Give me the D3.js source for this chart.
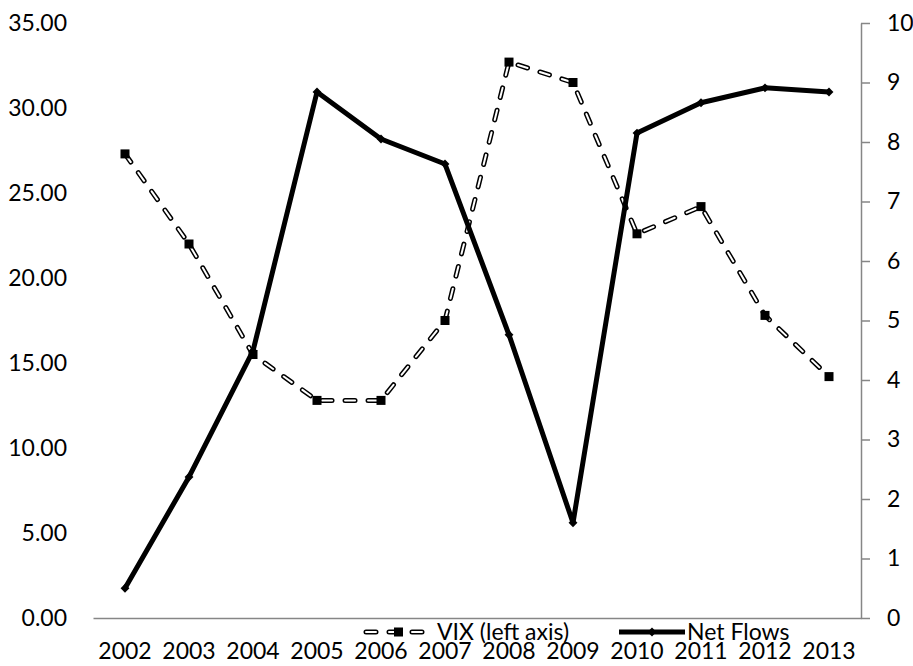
<!DOCTYPE html>
<html>
<head>
<meta charset="utf-8">
<script src="https://cdn.jsdelivr.net/npm/d3@7"></script>
<style>
  body { margin: 0; background: #fff; }
  text { font-family: Lato, "Open Sans", sans-serif; fill: #000; }
</style>
</head>
<body>
<div id="chart"></div>
<script>
// data
var years = ["2002","2003","2004","2005","2006","2007","2008","2009","2010","2011","2012","2013"]
var vix = [27.3, 22.0, 15.5, 12.8, 12.8, 17.5, 32.7, 31.5, 22.6, 24.2, 17.8, 14.2]
var netFlows = [0.50, 2.37, 4.49, 8.84, 8.05, 7.63, 4.76, 1.60, 8.15, 8.66, 8.91, 8.84]
var leftTicks = [0, 5, 10, 15, 20, 25, 30, 35]
var rightTicks = [0, 1, 2, 3, 4, 5, 6, 7, 8, 9, 10]

var w = 913
var h = 666
var plotL = 93, plotR = 861, plotT = 23, plotB = 618

var svg = d3.select('#chart').append('svg')
  .attr('width', w)
  .attr('height', h)

var x = d3.scaleBand().domain(years).range([plotL, plotR])
var yL = d3.scaleLinear().domain([0, 35]).range([plotB, plotT])
var yR = d3.scaleLinear().domain([0, 10]).range([plotB, plotT])

// left axis: labels only
var gl = svg.append('g')
  .attr('transform', 'translate(' + plotL + ',0)')
  .call(d3.axisLeft(yL).tickValues(leftTicks).tickFormat(d3.format('.2f')).tickSize(0).tickPadding(26))
gl.select('.domain').remove()
gl.selectAll('text').style('font-size', '23px')

// right axis
var gr = svg.append('g')
  .attr('transform', 'translate(' + plotR + ',0)')
  .call(d3.axisRight(yR).tickValues(rightTicks).tickFormat(d3.format('d')).tickSize(9).tickSizeOuter(0).tickPadding(17))
gr.select('.domain').attr('stroke', '#868686').attr('stroke-width', 1.5)
gr.selectAll('.tick line').attr('stroke', '#868686').attr('stroke-width', 1.5)
gr.selectAll('text').style('font-size', '23px')

// bottom axis
var gb = svg.append('g')
  .attr('transform', 'translate(0,' + plotB + ')')
  .call(d3.axisBottom(x).tickSize(0).tickPadding(25))
gb.select('.domain').attr('stroke', '#868686').attr('stroke-width', 1.5)
gb.selectAll('text').style('font-size', '23px')

function cx(d, i){ return x(years[i]) + x.bandwidth()/2 }

// VIX hollow dashed line
var vixLine = d3.line().x(function(d,i){ return cx(d,i) }).y(function(d){ return yL(d) })
function hollowDash(g, pathD){
  g.append('path').attr('d', pathD)
    .attr('fill', 'none').attr('stroke', '#000').attr('stroke-width', 5)
    .attr('stroke-dasharray', '10,13').attr('stroke-linecap', 'round')
  g.append('path').attr('d', pathD)
    .attr('fill', 'none').attr('stroke', '#fff').attr('stroke-width', 2)
    .attr('stroke-dasharray', '10,13').attr('stroke-linecap', 'round')
}
var gv = svg.append('g')
hollowDash(gv, vixLine(vix))
gv.selectAll('rect.vix')
  .data(vix)
  .enter()
  .append('rect')
  .attr('class', 'vix')
  .attr('x', function(d,i){ return cx(d,i) - 4.5 })
  .attr('y', function(d){ return yL(d) - 4.5 })
  .attr('width', 9)
  .attr('height', 9)
  .attr('fill', '#000')

// Net flows solid line
var nfLine = d3.line().x(function(d,i){ return cx(d,i) }).y(function(d){ return yR(d) })
var gn = svg.append('g')
gn.append('path')
  .attr('d', nfLine(netFlows))
  .attr('fill', 'none')
  .attr('stroke', '#000')
  .attr('stroke-width', 5)
  .attr('stroke-linejoin', 'round')
var diamond = d3.symbol().type(d3.symbolDiamond2).size(50)
gn.selectAll('path.nf')
  .data(netFlows)
  .enter()
  .append('path')
  .attr('class', 'nf')
  .attr('d', diamond)
  .attr('transform', function(d,i){ return 'translate(' + cx(d,i) + ',' + yR(d) + ')' })
  .attr('fill', '#000')

// legend
var legY = 632
var lg = svg.append('g')
hollowDash(lg, 'M366,' + legY + 'L423,' + legY)
lg.append('rect').attr('x', 394).attr('y', legY - 4.5).attr('width', 9).attr('height', 9).attr('fill', '#000')
lg.append('text').attr('x', 437).attr('y', 640).style('font-size', '23px').text('VIX (left axis)')
lg.append('line').attr('x1', 619).attr('x2', 685).attr('y1', legY).attr('y2', legY)
  .attr('stroke', '#000').attr('stroke-width', 5)
lg.append('path').attr('d', diamond).attr('transform', 'translate(652,' + legY + ')').attr('fill', '#000')
lg.append('text').attr('x', 687).attr('y', 640).style('font-size', '23px').text('Net Flows')
</script>
</body>
</html>
